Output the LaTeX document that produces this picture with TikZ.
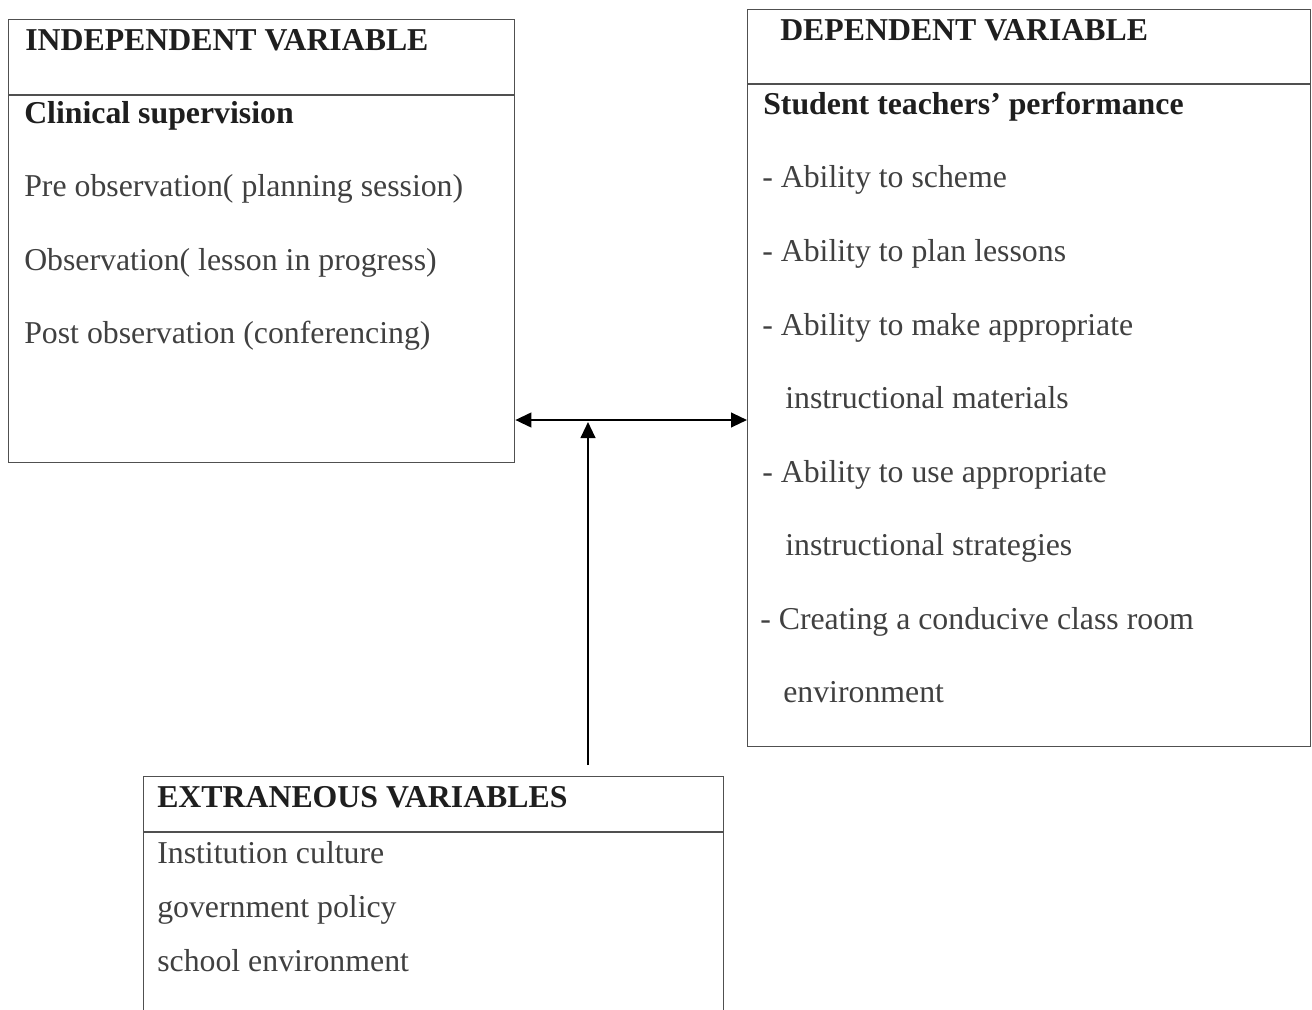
\documentclass[tikz,border=0pt]{standalone}
\usepackage{fontspec}
\setmainfont{Liberation Serif}
\usetikzlibrary{arrows.meta,calc}
\definecolor{rule}{HTML}{505050}
\definecolor{ink}{HTML}{1E1E1E}
\begin{document}
\begin{tikzpicture}[x=0.75pt,y=-0.75pt,
  panel/.style={draw=rule,line width=1pt,rectangle,inner sep=0pt,anchor=north west},
  divider/.style={draw=rule,line width=1pt},
  head/.style={anchor=base west,inner sep=0pt,text=ink,font=\fontsize{23.85}{28}\selectfont\bfseries},
  item/.style={anchor=base west,inner sep=0pt,text=ink!85,font=\fontsize{23.85}{28}\selectfont},
  tip/.tip={Triangle[length=12pt,width=11pt]},
  link/.style={line width=1.6pt,black,-tip},
  link2/.style={line width=1.6pt,black,tip-tip}]
\useasboundingbox (0,0) rectangle (1312,1009);
\clip (0,0) rectangle (1312,1009);

% independent variable panel
\node[panel,minimum width=379.5pt,minimum height=332.25pt] (indep) at (8,19) {};
\draw[divider] (8,95) -- (514,95);
\node[head] (indepT) at (25,51) {INDEPENDENT VARIABLE};
\node[head] (indepS) at (24,124) {Clinical supervision};
\node[item] (i1) at (24,197) {Pre observation( planning session)};
\node[item] (i2) at (24,270) {Observation( lesson in progress)};
\node[item] (i3) at (24,343) {Post observation (conferencing)};

% dependent variable panel
\node[panel,minimum width=422.25pt,minimum height=552.75pt] (dep) at (747,9) {};
\draw[divider] (747,84) -- (1310,84);
\node[head] (depT) at (780,41) {DEPENDENT VARIABLE};
\node[head] (depS) at (763,115) {Student teachers’ performance};
\node[item] (d1) at (762,188) {- Ability to scheme};
\node[item] (d2) at (762,261) {- Ability to plan lessons};
\node[item] (d3) at (762,335) {- Ability to make appropriate};
\node[item] (d4) at (785,408) {instructional materials};
\node[item] (d5) at (762,482) {- Ability to use appropriate};
\node[item] (d6) at (785,555) {instructional strategies};
\node[item] (d7) at (760,629) {- Creating a conducive class room};
\node[item] (d8) at (783,702) {environment};

% extraneous variables panel (runs off the lower edge)
\node[panel,minimum width=435pt,minimum height=180pt] (extra) at (143,776) {};
\draw[divider] (143,832) -- (723,832);
\node[head] (extraT) at (157,807) {EXTRANEOUS VARIABLES};
\node[item] (e1) at (157,863) {Institution culture};
\node[item] (e2) at (157,917) {government policy};
\node[item] (e3) at (157,971) {school environment};

% connectors
\coordinate (junction) at (588,420);
\draw[link2] (junction -| indep.east) -- (junction -| dep.west);
\draw[link] ($(extra.north -| junction)+(0,-11)$) -- ($(junction)+(0,2)$);
\end{tikzpicture}
\end{document}
